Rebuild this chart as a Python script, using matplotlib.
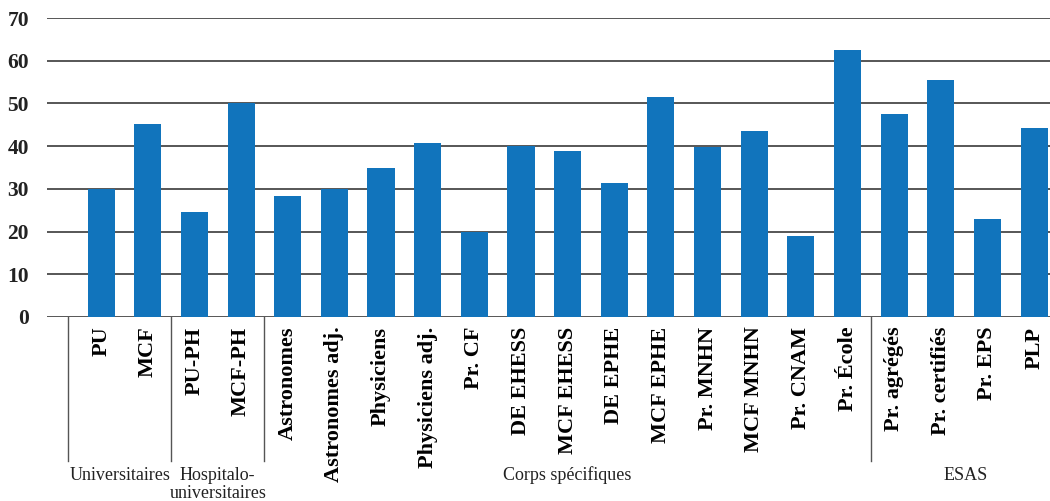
import matplotlib.pyplot as plt
import matplotlib.transforms as mtransforms

# Données
categories = ["PU", "MCF", "PU-PH", "MCF-PH", "Astronomes", "Astronomes adj.",
              "Physiciens", "Physiciens adj.", "Pr. CF", "DE EHESS", "MCF EHESS",
              "DE EPHE", "MCF EPHE", "Pr. MNHN", "MCF MNHN", "Pr. CNAM", "Pr. École",
              "Pr. agrégés", "Pr. certifiés", "Pr. EPS", "PLP"]
valeurs = [30, 45.2, 24.6, 50, 28.4, 30, 35, 40.8, 20, 40.1, 38.9,
           31.4, 51.6, 39.9, 43.6, 19, 62.6, 47.6, 55.5, 23, 44.3]
groupes = ["Universitaires", "Hospitalo-\nuniversitaires", "Corps spécifiques", "ESAS"]
limites = [-0.7, 1.5, 3.5, 16.5, 20.55]
yticks = [0, 10, 20, 30, 40, 50, 60, 70]

serif = ["Liberation Serif", "DejaVu Serif"]
bleu = "#1174bc"
gris = "#3a3a3a"

fig = plt.figure(figsize=(10.5, 5.01), dpi=100)
ax = fig.add_axes([47 / 1050, 1 - 317 / 501, 1 - 47 / 1050, 299 / 501])

x = list(range(len(categories)))
ax.bar(x, valeurs, width=0.58, color=bleu, zorder=3)

ax.set_ylim(0, 70)
ax.set_xlim(-1.16, 20.34)
ax.set_yticks(yticks)
ax.yaxis.grid(True, color=gris, linewidth=1.2, zorder=1)
ax.set_axisbelow(True)
for s in ax.spines.values():
    s.set_visible(False)
ax.tick_params(axis="both", length=0)
ax.tick_params(axis="y", pad=13)
ax.tick_params(axis="x", pad=7)

ax.set_xticks(x)
ax.set_xticklabels(categories, rotation=90, va="top", ha="center",
                   family=serif, fontweight="bold", fontsize=16)
for lab in ax.get_yticklabels():
    lab.set_family(serif)
    lab.set_fontweight("bold")
    lab.set_fontsize(15.5)
    lab.set_color("#222222")

# Séparateurs et noms des groupes
trans = mtransforms.blended_transform_factory(ax.transData, ax.transAxes)
for b in limites[:-1]:
    ax.plot([b, b], [0, -0.48], transform=trans, color="#555555",
            linewidth=1, clip_on=False)
for i, g in enumerate(groupes):
    milieu = (limites[i] + limites[i + 1]) / 2
    ax.text(milieu, -0.5, g, transform=trans, ha="center", va="top",
            family=serif, fontsize=13, color="#222222", linespacing=1.1)

fig.savefig("out.png", dpi=100)
